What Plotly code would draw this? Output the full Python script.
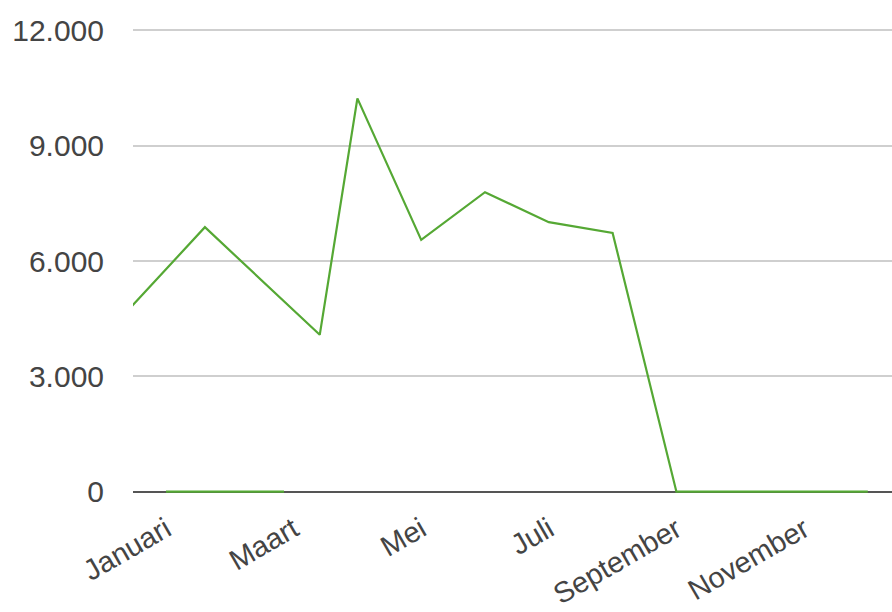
import plotly.graph_objects as go

# Month names used for the category ticks (every other month is labelled)
months = ["Januari", "Februari", "Maart", "April", "Mei", "Juni",
          "Juli", "Augustus", "September", "Oktober", "November", "December"]

# Main series: position along the month axis (0 = Januari) and value
series_x = [-0.56, 0.61, 2.41, 3, 4, 5, 6, 7, 8, 9, 10, 11]
series_y = [4780, 6880, 4080, 10230, 6550, 7790, 7010, 6730, 0, 0, 0, 0]

# Flat zero segment at the start of the year
zero_x = [0, 1.85]
zero_y = [0, 0]

y_ticks = [0, 3000, 6000, 9000, 12000]
tick_months = list(range(0, 12, 2))

GREEN = "#55a834"
FONT = "Liberation Sans, Arial, sans-serif"

fig = go.Figure()
fig.add_trace(go.Scatter(x=zero_x, y=zero_y, mode="lines",
                         line=dict(color=GREEN, width=2.2), hoverinfo="skip",
                         showlegend=False))
fig.add_trace(go.Scatter(x=series_x, y=series_y, mode="lines",
                         line=dict(color=GREEN, width=2.2),
                         showlegend=False))

fig.update_layout(
    width=892, height=612,
    margin=dict(l=133, r=0, t=28, b=118),
    paper_bgcolor="white", plot_bgcolor="white",
    separators=",.",
    font=dict(family=FONT, size=30, color="#444"),
    xaxis=dict(
        range=[-0.517, 11.379],
        tickvals=tick_months,
        ticktext=[months[i] for i in tick_months],
        tickangle=-30,
        automargin=False,
        showgrid=False, zeroline=False, showline=False,
        ticks="", ticklabelstandoff=12,
        tickfont=dict(family=FONT, size=29, color="#444"),
    ),
    yaxis=dict(
        range=[-60, 12060],
        tickvals=y_ticks,
        tickformat=",.0f",
        automargin=False,
        showgrid=True, gridcolor="#cfcfcf", gridwidth=1.5,
        zeroline=True, zerolinecolor="#555", zerolinewidth=2.4,
        showline=False, ticks="", ticklabelstandoff=28,
        tickfont=dict(family=FONT, size=30, color="#444"),
    ),
)

fig.write_html("out.html")
